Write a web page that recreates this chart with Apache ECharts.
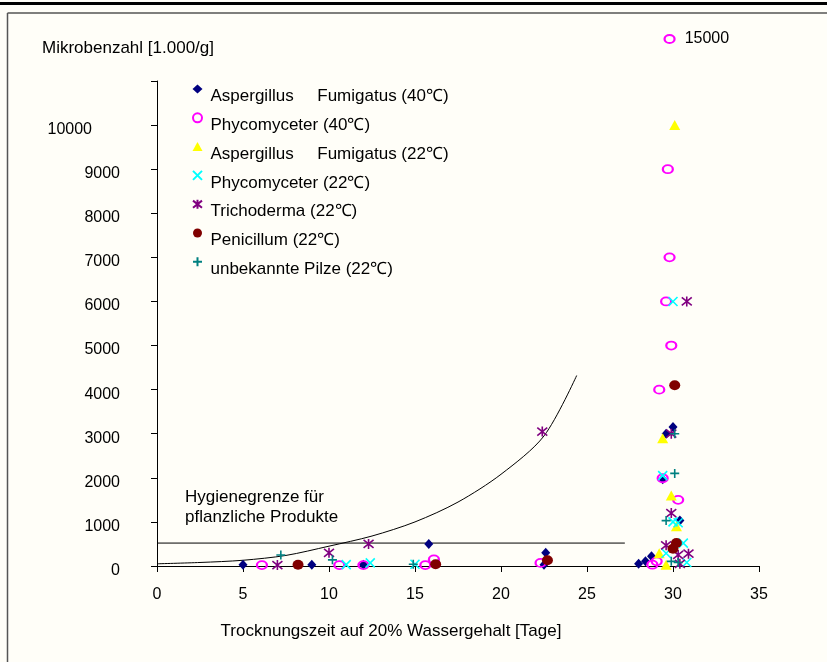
<!DOCTYPE html>
<html><head><meta charset="utf-8">
<script src="https://cdn.jsdelivr.net/npm/echarts@6/dist/echarts.min.js"></script>
<style>html,body{margin:0;padding:0;background:#fff}#c{width:827px;height:662px}</style>
</head><body><div id="c"></div>
<script>
// ---- data (day, value in 1.000/g) ----
const seriesNames = ['Aspergillus     Fumigatus (40\u2103)','Phycomyceter (40\u2103)','Aspergillus     Fumigatus (22\u2103)','Phycomyceter (22\u2103)','Trichoderma (22\u2103)','Penicillum (22\u2103)','unbekannte Pilze (22\u2103)'];
const aspergillus40 = [[5,30],[9,30],[12,30],[15.8,500],[22.6,300],[22.5,30],[28.0,50],[28.4,105],[28.75,220],[29.6,3000],[30.0,3150],[29.4,1970],[30.4,1030]];
const phyco40 = [[6.1,20],[10.6,20],[12,20],[15.6,20],[16.1,150],[22.3,70],[28.8,30],[29.05,105],[29.4,1990],[30.3,1500],[29.2,4000],[29.9,5000],[29.6,6000],[29.8,7000],[29.7,9000]];
const phyco40Outlier = [[29.8,15000]];
const aspergillus22 = [[29.6,30],[29.2,290],[30.2,900],[29.9,1600],[29.4,2900],[30.1,10000]];
const phyco22 = [[11,30],[12.4,70],[15,40],[29.6,290],[30.6,520],[30.0,1000],[30.3,980],[29.4,2050],[30.0,6000],[30.8,80]];
const tricho22 = [[7,20],[10,300],[12.3,500],[22.4,3050],[30.4,50],[30.3,250],[30.9,280],[29.6,470],[29.9,1200],[29.9,3000],[30.8,6000]];
const penic22 = [[8.2,30],[16.2,40],[22.7,130],[30.0,390],[30.2,520],[30.1,4100]];
const unbekannt22 = [[7.2,250],[10.2,140],[14.9,40],[29.9,105],[30.3,80],[29.6,1030],[30.1,2100],[30.1,3000]];
// trend curve
const curveX = [0,2.5,5,7.5,10,12.5,15,17.5,20,22.5,24.4];
const curveY = [50,80,130,240,450,680,1000,1450,2080,2950,4320];
// hygiene limit
const hygieneX = [0,27.2];
const hygieneY = [520,520];
const xTicks = [0,5,10,15,20,25,30,35];
const yTicksMax = 11000;

const FONT = '"Liberation Sans", Arial, sans-serif';
const chart = echarts.init(document.getElementById('c'));
const mk = (name, data, symbol, size, style) => ({
  name, type:'scatter', data, symbol, symbolSize:size, itemStyle:Object.assign({opacity:1},style), xAxisIndex:0, yAxisIndex:0, z:5
});
const strokeStyle = c => ({color:'transparent', borderColor:c, borderWidth:1.6});
const pathX = 'path://M0,0L10,10M10,0L0,10';
const pathStar = 'path://M0,1L10,9M10,1L0,9M5,0L5,10';
const pathPlus = 'path://M5,0L5,10M0,5L10,5';
const tStyle = (fs) => ({fontSize:fs,fontWeight:'normal',color:'#000',fontFamily:FONT});

chart.setOption({
  backgroundColor:'#fffef8',
  animation:false,
  textStyle:{fontFamily:FONT},
  grid:[
    {left:157, right:68, top:81, bottom:96},
    {left:157, right:68, top:30, height:18}
  ],
  xAxis:[
    {type:'value', gridIndex:0, min:xTicks[0], max:xTicks[xTicks.length-1], interval:5,
     axisLine:{lineStyle:{color:'#000',width:1}}, axisTick:{inside:false,length:6,lineStyle:{color:'#000'}},
     axisLabel:{color:'#000',fontSize:16,margin:21,fontFamily:FONT}, splitLine:{show:false}},
    {type:'value', gridIndex:1, min:xTicks[0], max:xTicks[xTicks.length-1], show:false}
  ],
  yAxis:[
    {type:'value', gridIndex:0, min:0, max:yTicksMax, interval:1000,
     axisLine:{show:true,lineStyle:{color:'#000',width:1}}, axisTick:{show:true,length:6,lineStyle:{color:'#000'}},
     axisLabel:{color:'#000',fontSize:16,margin:37,fontFamily:FONT,
       formatter:v=> v===yTicksMax ? '' : (v===10000 ? '{w|'+v+'}' : '{n|'+v+'}'),
       rich:{w:{fontSize:16,fontFamily:FONT,color:'#000',padding:[10,28,0,0]},
             n:{fontSize:16,fontFamily:FONT,color:'#000',padding:[9,0,0,0]}}},
     splitLine:{show:false}},
    {type:'value', gridIndex:1, min:14000, max:16000, show:false}
  ],
  legend:{
    orient:'vertical', left:192, top:73, itemGap:-3.2, itemWidth:10, itemHeight:9, padding:0,
    data:seriesNames,
    formatter:n=>'\n'+n,
    textStyle:{fontSize:17, color:'#000', fontFamily:FONT, lineHeight:15, padding:[0,0,0,3]}
  },
  title:[
    {text:'Mikrobenzahl [1.000/g]', left:42, top:40, padding:0, textStyle:tStyle(17)},
    {text:'Trocknungszeit auf 20% Wassergehalt [Tage]', left:391, top:623, padding:0, textAlign:'center', textStyle:tStyle(17)},
    {text:'Hygienegrenze f\u00fcr\npflanzliche Produkte', left:185, top:487, padding:0, textStyle:Object.assign(tStyle(17),{lineHeight:20})}
  ],
  graphic:[
    {type:'rect', shape:{x:0,y:2,width:827,height:3}, style:{fill:'#000'}, z:10},
    {type:'line', shape:{x1:7.5,y1:13,x2:827,y2:13}, style:{stroke:'#555',lineWidth:1.5}, z:10},
    {type:'line', shape:{x1:7.5,y1:13,x2:7.5,y2:662}, style:{stroke:'#555',lineWidth:1.5}, z:10}
  ],
  series:[
    {type:'line', name:'curve', data:curveX.map((x,i)=>[x,curveY[i]]), smooth:0.3, showSymbol:false, silent:true,
     lineStyle:{color:'#000',width:1}, z:2},
    {type:'line', name:'hygiene', data:hygieneX.map((x,i)=>[x,hygieneY[i]]), showSymbol:false, silent:true,
     lineStyle:{color:'#000',width:1}, z:2},
    mk(seriesNames[0], aspergillus40, 'diamond', [9,10], {color:'#000080'}),
    mk(seriesNames[1], phyco40, 'circle', [10,8], {color:'transparent',borderColor:'#ff00ff',borderWidth:2}),
    mk(seriesNames[2], aspergillus22, 'triangle', [11,10], {color:'#ffff00'}),
    mk(seriesNames[3], phyco22, pathX, [9,9], strokeStyle('#00ffff')),
    mk(seriesNames[4], tricho22, pathStar, [10,10], strokeStyle('#800080')),
    mk(seriesNames[5], penic22, 'circle', [11,10], {color:'#800000'}),
    mk(seriesNames[6], unbekannt22, pathPlus, [9,9], strokeStyle('#008080')),
    {type:'scatter', name:seriesNames[1], xAxisIndex:1, yAxisIndex:1, data:phyco40Outlier,
     symbol:'circle', symbolSize:[10,8], itemStyle:{opacity:1,color:'transparent',borderColor:'#ff00ff',borderWidth:2},
     label:{show:true, position:'right', distance:9, formatter:p=>String(p.value[1]), color:'#000', fontSize:16, fontFamily:FONT}}
  ]
});
</script></body></html>
